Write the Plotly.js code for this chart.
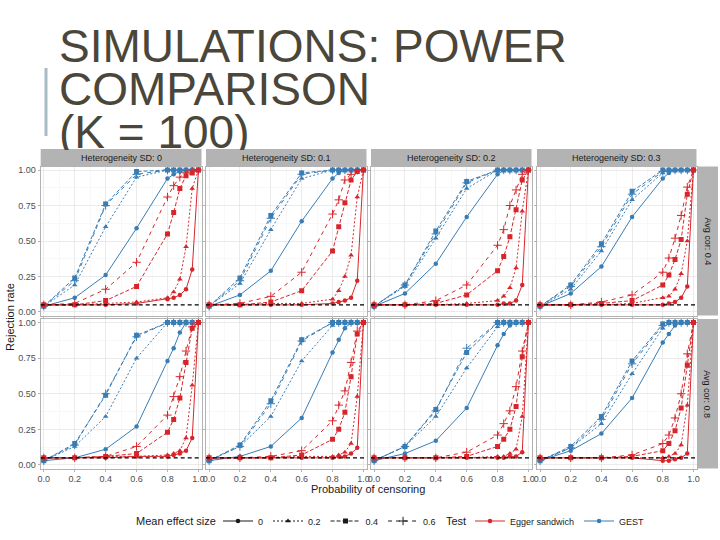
<!DOCTYPE html>
<html>
<head>
<meta charset="utf-8">
<script src="https://cdn.plot.ly/plotly-3.0.1.min.js"></script>
<style>
  html, body { margin: 0; padding: 0; background: #fff; }
  #chart { width: 720px; height: 540px; }
</style>
</head>
<body>
<div id="chart"></div>
<script>
const CENSOR_PROB = [0, 0.2, 0.4, 0.6, 0.8, 0.84, 0.88, 0.92, 0.96, 1];
const HET_SD = ["0", "0.1", "0.2", "0.3"];
const AVG_COR = ["0.4", "0.8"];
const EFFECT_SIZES = ["0", "0.2", "0.4", "0.6"];
const TESTS = ["Egger sandwich", "GEST"];
const NOMINAL_ALPHA = 0.05;

// each block: one row per mean effect size (0, 0.2, 0.4, 0.6)
const gest_cor04_sd0 = [
  [0.04, 0.10, 0.26, 0.59, 0.94, 0.97, 0.99, 1.00, 1.00, 1.00],
  [0.04, 0.19, 0.60, 0.95, 1.00, 1.00, 1.00, 1.00, 1.00, 1.00],
  [0.04, 0.24, 0.76, 0.99, 1.00, 1.00, 1.00, 1.00, 1.00, 1.00],
  [0.04, 0.22, 0.75, 0.97, 1.00, 1.00, 1.00, 1.00, 1.00, 1.00]
];
const egger_cor04_sd0 = [
  [0.05, 0.05, 0.05, 0.06, 0.09, 0.10, 0.12, 0.16, 0.30, 1.00],
  [0.05, 0.05, 0.06, 0.07, 0.10, 0.14, 0.23, 0.46, 0.87, 1.00],
  [0.05, 0.05, 0.08, 0.18, 0.55, 0.70, 0.87, 0.96, 0.98, 1.00],
  [0.05, 0.06, 0.16, 0.35, 0.81, 0.89, 0.95, 0.98, 1.00, 1.00]
];
const gest_cor04_sd01 = [
  [0.04, 0.12, 0.29, 0.64, 0.94, 0.98, 1.00, 1.00, 1.00, 1.00],
  [0.04, 0.20, 0.58, 0.94, 1.00, 1.00, 1.00, 1.00, 1.00, 1.00],
  [0.04, 0.24, 0.68, 0.98, 1.00, 1.00, 1.00, 1.00, 1.00, 1.00],
  [0.04, 0.22, 0.66, 0.97, 1.00, 1.00, 1.00, 1.00, 1.00, 1.00]
];
const egger_cor04_sd01 = [
  [0.05, 0.05, 0.05, 0.05, 0.06, 0.07, 0.08, 0.10, 0.22, 1.00],
  [0.05, 0.05, 0.06, 0.06, 0.09, 0.15, 0.25, 0.40, 0.81, 1.00],
  [0.05, 0.05, 0.07, 0.15, 0.43, 0.60, 0.77, 0.93, 0.99, 1.00],
  [0.05, 0.06, 0.11, 0.28, 0.69, 0.79, 0.93, 0.97, 1.00, 1.00]
];
const gest_cor04_sd02 = [
  [0.04, 0.13, 0.34, 0.67, 0.97, 1.00, 1.00, 1.00, 1.00, 1.00],
  [0.04, 0.18, 0.52, 0.87, 1.00, 1.00, 1.00, 1.00, 1.00, 1.00],
  [0.04, 0.19, 0.57, 0.92, 1.00, 1.00, 1.00, 1.00, 1.00, 1.00],
  [0.04, 0.19, 0.55, 0.91, 1.00, 1.00, 1.00, 1.00, 1.00, 1.00]
];
const egger_cor04_sd02 = [
  [0.05, 0.05, 0.05, 0.05, 0.05, 0.06, 0.06, 0.08, 0.19, 1.00],
  [0.05, 0.05, 0.05, 0.06, 0.08, 0.11, 0.17, 0.31, 0.71, 1.00],
  [0.05, 0.05, 0.06, 0.12, 0.29, 0.39, 0.53, 0.72, 0.93, 1.00],
  [0.05, 0.05, 0.08, 0.19, 0.47, 0.58, 0.75, 0.86, 0.97, 1.00]
];
const gest_cor04_sd03 = [
  [0.04, 0.13, 0.32, 0.67, 0.94, 0.98, 1.00, 1.00, 1.00, 1.00],
  [0.04, 0.16, 0.43, 0.79, 0.98, 1.00, 1.00, 1.00, 1.00, 1.00],
  [0.04, 0.19, 0.48, 0.85, 1.00, 1.00, 1.00, 1.00, 1.00, 1.00],
  [0.04, 0.18, 0.46, 0.83, 0.99, 1.00, 1.00, 1.00, 1.00, 1.00]
];
const egger_cor04_sd03 = [
  [0.05, 0.05, 0.05, 0.05, 0.05, 0.06, 0.07, 0.10, 0.18, 1.00],
  [0.05, 0.05, 0.05, 0.06, 0.10, 0.11, 0.16, 0.27, 0.50, 1.00],
  [0.05, 0.05, 0.06, 0.08, 0.19, 0.26, 0.37, 0.51, 0.83, 1.00],
  [0.05, 0.05, 0.07, 0.12, 0.28, 0.38, 0.52, 0.68, 0.88, 1.00]
];
const gest_cor08_sd0 = [
  [0.03, 0.05, 0.11, 0.27, 0.73, 0.82, 0.93, 1.00, 1.00, 1.00],
  [0.03, 0.13, 0.34, 0.75, 1.00, 1.00, 1.00, 1.00, 1.00, 1.00],
  [0.03, 0.15, 0.49, 0.91, 1.00, 1.00, 1.00, 1.00, 1.00, 1.00],
  [0.03, 0.14, 0.50, 0.90, 1.00, 1.00, 1.00, 1.00, 1.00, 1.00]
];
const egger_cor08_sd0 = [
  [0.05, 0.05, 0.05, 0.06, 0.06, 0.07, 0.08, 0.10, 0.19, 1.00],
  [0.05, 0.05, 0.06, 0.06, 0.07, 0.08, 0.10, 0.19, 0.56, 1.00],
  [0.05, 0.05, 0.06, 0.08, 0.23, 0.32, 0.47, 0.72, 0.96, 1.00],
  [0.05, 0.05, 0.06, 0.13, 0.35, 0.48, 0.62, 0.80, 0.97, 1.00]
];
const gest_cor08_sd01 = [
  [0.03, 0.06, 0.13, 0.33, 0.79, 0.88, 0.96, 1.00, 1.00, 1.00],
  [0.03, 0.13, 0.34, 0.73, 0.98, 1.00, 1.00, 1.00, 1.00, 1.00],
  [0.03, 0.14, 0.45, 0.88, 1.00, 1.00, 1.00, 1.00, 1.00, 1.00],
  [0.03, 0.13, 0.43, 0.87, 1.00, 1.00, 1.00, 1.00, 1.00, 1.00]
];
const egger_cor08_sd01 = [
  [0.05, 0.05, 0.05, 0.05, 0.05, 0.06, 0.06, 0.08, 0.12, 1.00],
  [0.05, 0.05, 0.05, 0.06, 0.06, 0.07, 0.09, 0.15, 0.48, 1.00],
  [0.05, 0.05, 0.05, 0.07, 0.18, 0.25, 0.37, 0.62, 0.92, 1.00],
  [0.05, 0.05, 0.06, 0.10, 0.31, 0.42, 0.52, 0.72, 0.94, 1.00]
];
const gest_cor08_sd02 = [
  [0.03, 0.08, 0.17, 0.40, 0.84, 0.92, 0.98, 1.00, 1.00, 1.00],
  [0.03, 0.13, 0.34, 0.68, 0.97, 1.00, 1.00, 1.00, 1.00, 1.00],
  [0.03, 0.13, 0.39, 0.79, 1.00, 1.00, 1.00, 1.00, 1.00, 1.00],
  [0.03, 0.13, 0.38, 0.82, 1.00, 1.00, 1.00, 1.00, 1.00, 1.00]
];
const egger_cor08_sd02 = [
  [0.05, 0.05, 0.05, 0.05, 0.05, 0.05, 0.06, 0.06, 0.09, 1.00],
  [0.05, 0.05, 0.05, 0.05, 0.06, 0.06, 0.08, 0.11, 0.34, 1.00],
  [0.05, 0.05, 0.05, 0.06, 0.13, 0.18, 0.25, 0.41, 0.76, 1.00],
  [0.05, 0.05, 0.05, 0.09, 0.21, 0.29, 0.38, 0.55, 0.80, 1.00]
];
const gest_cor08_sd03 = [
  [0.03, 0.10, 0.22, 0.47, 0.86, 0.92, 0.98, 1.00, 1.00, 1.00],
  [0.03, 0.12, 0.29, 0.64, 0.96, 1.00, 1.00, 1.00, 1.00, 1.00],
  [0.03, 0.13, 0.34, 0.73, 0.99, 1.00, 1.00, 1.00, 1.00, 1.00],
  [0.03, 0.12, 0.32, 0.71, 0.98, 1.00, 1.00, 1.00, 1.00, 1.00]
];
const egger_cor08_sd03 = [
  [0.05, 0.05, 0.05, 0.05, 0.03, 0.03, 0.04, 0.05, 0.08, 1.00],
  [0.05, 0.05, 0.05, 0.05, 0.05, 0.06, 0.08, 0.14, 0.42, 1.00],
  [0.05, 0.05, 0.05, 0.06, 0.10, 0.15, 0.24, 0.40, 0.70, 1.00],
  [0.05, 0.05, 0.05, 0.07, 0.15, 0.21, 0.33, 0.50, 0.78, 1.00]
];

const PANELS = [
  { cor: 0, sd: 0, egger: egger_cor04_sd0,  gest: gest_cor04_sd0 },
  { cor: 0, sd: 1, egger: egger_cor04_sd01, gest: gest_cor04_sd01 },
  { cor: 0, sd: 2, egger: egger_cor04_sd02, gest: gest_cor04_sd02 },
  { cor: 0, sd: 3, egger: egger_cor04_sd03, gest: gest_cor04_sd03 },
  { cor: 1, sd: 0, egger: egger_cor08_sd0,  gest: gest_cor08_sd0 },
  { cor: 1, sd: 1, egger: egger_cor08_sd01, gest: gest_cor08_sd01 },
  { cor: 1, sd: 2, egger: egger_cor08_sd02, gest: gest_cor08_sd02 },
  { cor: 1, sd: 3, egger: egger_cor08_sd03, gest: gest_cor08_sd03 }
];

const TEST_COLORS = { "Egger sandwich": "#d7262b", "GEST": "#3a7db5" };
const DASHES = ["solid", "2px,2px", "4px,2px", "4px,4px"];
const SYMBOLS = ["circle", "triangle-up", "square", "cross-thin"];
const FONT = "Liberation Sans, Arial, sans-serif";

// page geometry in pixels
const W = 720, H = 540;
const COL_PX = [[40.7, 201.5], [206, 366.5], [371, 531.5], [537, 696.5]];
const ROW_PX = [[166.5, 315.5], [319, 468.5]];
const STRIP_TOP = 149;
const fx = px => px / W;
const fy = px => 1 - px / H;

function axisId(i) {
  return i === 0 ? "" : String(i + 1);
}

function makeTrace(x, y, n, test, k, extra) {
  const color = TEST_COLORS[test];
  const plus = SYMBOLS[k] === "cross-thin";
  return Object.assign({
    x: x,
    y: y,
    xaxis: "x" + n,
    yaxis: "y" + n,
    type: "scatter",
    mode: "lines+markers",
    line: { color: color, width: 1, dash: DASHES[k] },
    marker: {
      symbol: SYMBOLS[k],
      size: plus ? 6 : (SYMBOLS[k] === "circle" ? 4.5 : 5),
      color: color,
      line: { color: color, width: plus ? 1 : 0 }
    },
    showlegend: false,
    hoverinfo: "skip"
  }, extra || {});
}

const traces = [];
PANELS.forEach((p, i) => {
  const n = axisId(i);
  // GEST underneath, Egger on top
  p.gest.forEach((row, k) => traces.push(makeTrace(CENSOR_PROB, row, n, "GEST", k)));
  p.egger.forEach((row, k) => traces.push(makeTrace(CENSOR_PROB, row, n, "Egger sandwich", k)));
});

// legend-only entries
EFFECT_SIZES.forEach((eff, k) => {
  const t = makeTrace([null], [null], "", "GEST", k, { name: eff, showlegend: true, legend: "legend" });
  t.line.color = "#1a1a1a";
  t.marker.color = "#1a1a1a";
  t.marker.line.color = "#1a1a1a";
  traces.push(t);
});
TESTS.forEach(test => {
  traces.push(makeTrace([null], [null], "", test, 0, { name: test, showlegend: true, legend: "legend2" }));
});

const LEGEND_Y = 521;
const legendBase = {
  orientation: "h",
  y: fy(LEGEND_Y), xanchor: "left", yanchor: "middle",
  font: { size: 9, color: "#1a1a1a" },
  itemwidth: 30,
  bgcolor: "rgba(0,0,0,0)"
};

const layout = {
  width: W,
  height: H,
  margin: { l: 0, r: 0, t: 0, b: 0 },
  paper_bgcolor: "#ffffff",
  plot_bgcolor: "#ffffff",
  font: { family: FONT, color: "#1a1a1a" },
  showlegend: true,
  legend: Object.assign({ x: fx(218) }, legendBase),
  legend2: Object.assign({ x: fx(470) }, legendBase),
  shapes: [],
  annotations: []
};

PANELS.forEach((p, i) => {
  const n = axisId(i);
  const col = COL_PX[p.sd];
  const row = ROW_PX[p.cor];
  layout["xaxis" + n] = {
    domain: [fx(col[0]), fx(col[1])],
    anchor: "y" + n,
    range: [-0.02, 1.02],
    tick0: 0, dtick: 0.2, tickformat: ".1f",
    showticklabels: p.cor === 1,
    ticks: "outside", ticklen: 2, tickcolor: "#b3b3b3",
    tickfont: { size: 9, color: "#4d4d4d" },
    showgrid: true, gridcolor: "#e3e3e3", gridwidth: 0.7,
    minor: { dtick: 0.1, showgrid: true, gridcolor: "#f1f1f1", gridwidth: 0.5 },
    zeroline: false,
    showline: true, mirror: true, linecolor: "#b3b3b3", linewidth: 1,
    fixedrange: true
  };
  layout["yaxis" + n] = {
    domain: [fy(row[1]), fy(row[0])],
    anchor: "x" + n,
    range: [-0.025, 1.025],
    tick0: 0, dtick: 0.25, tickformat: ".2f",
    showticklabels: p.sd === 0,
    ticks: "outside", ticklen: 2, tickcolor: "#b3b3b3",
    tickfont: { size: 9, color: "#4d4d4d" },
    showgrid: true, gridcolor: "#e3e3e3", gridwidth: 0.7,
    minor: { dtick: 0.125, showgrid: true, gridcolor: "#f1f1f1", gridwidth: 0.5 },
    zeroline: false,
    showline: true, mirror: true, linecolor: "#b3b3b3", linewidth: 1,
    fixedrange: true
  };
  // nominal 5% reference line
  layout.shapes.push({
    type: "line", layer: "above",
    xref: "x" + n + " domain", x0: 0, x1: 1,
    yref: "y" + n, y0: NOMINAL_ALPHA, y1: NOMINAL_ALPHA,
    line: { color: "#000000", width: 1.2, dash: "4px,3px" }
  });
});

function addText(xpx, ypx, text, size, extra) {
  layout.annotations.push(Object.assign({
    xref: "paper", yref: "paper",
    x: fx(xpx), y: fy(ypx),
    xanchor: "center", yanchor: "middle",
    text: text, showarrow: false,
    font: { size: size, color: "#1a1a1a" }
  }, extra || {}));
}

// facet strips
HET_SD.forEach((sd, c) => {
  const col = COL_PX[c];
  layout.shapes.push({
    type: "rect", xref: "paper", yref: "paper",
    x0: fx(col[0]), x1: fx(col[1]), y0: fy(ROW_PX[0][0]), y1: fy(STRIP_TOP),
    fillcolor: "#b3b3b3", line: { width: 0 }
  });
  addText((col[0] + col[1]) / 2, (STRIP_TOP + ROW_PX[0][0]) / 2, "Heterogeneity SD: " + sd, 9);
});
AVG_COR.forEach((cor, r) => {
  const row = ROW_PX[r];
  layout.shapes.push({
    type: "rect", xref: "paper", yref: "paper",
    x0: fx(697), x1: fx(718), y0: fy(row[1]), y1: fy(row[0]),
    fillcolor: "#b3b3b3", line: { width: 0 }
  });
  addText(707.5, (row[0] + row[1]) / 2, "Avg cor: " + cor, 9, { textangle: 90 });
});

// axis titles and legend titles
addText(10, 317, "Rejection rate", 11, { textangle: -90 });
addText(368, 489, "Probability of censoring", 11);
addText(134, LEGEND_Y, "Mean effect size", 11, { xanchor: "left" });
addText(444, LEGEND_Y, "Test", 11, { xanchor: "left" });

// slide title: last line is cut off by the chart below it
const TITLE_LINES = ["SIMULATIONS: POWER", "COMPARISON", "(K = 100)"];
const TITLE_TOPS = [19, 62.5, 104.5];
const TITLE_HEIGHTS = [43, 42, 44];
TITLE_LINES.forEach((line, i) => {
  layout.annotations.push({
    xref: "paper", yref: "paper",
    x: fx(58), y: fy(TITLE_TOPS[i]), xanchor: "left", yanchor: "top",
    height: TITLE_HEIGHTS[i], valign: "top",
    text: line, showarrow: false, borderpad: 0,
    font: { family: FONT, size: 46, color: "#4a4639" }
  });
});
layout.shapes.push({
  type: "line", xref: "paper", yref: "paper",
  x0: fx(46), x1: fx(46), y0: fy(68), y1: fy(136),
  line: { color: "#a9bcc5", width: 3 }
});

Plotly.newPlot("chart", traces, layout, { displayModeBar: false, staticPlot: true });
</script>
</body>
</html>
